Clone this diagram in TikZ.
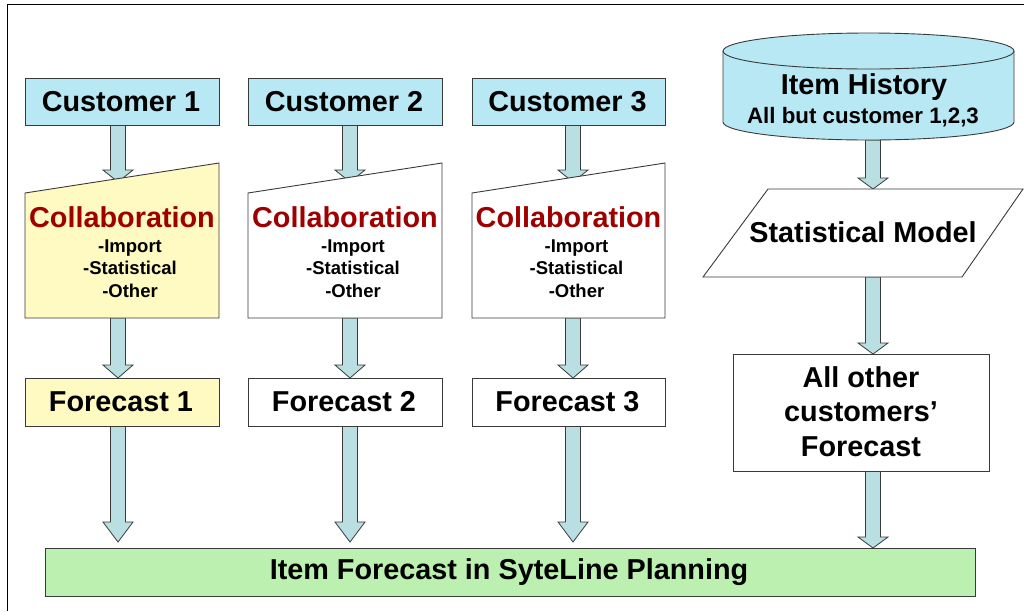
\documentclass[tikz,border=0pt]{standalone}
\usepackage{fontspec}
\setmainfont{Liberation Sans}
\usetikzlibrary{calc}
\definecolor{custblue}{HTML}{B8E8F4}
\definecolor{paleyellow}{HTML}{FFFAC2}
\definecolor{palegreen}{HTML}{BCF0B0}
\definecolor{arrowfill}{HTML}{B9DFE2}
\definecolor{collabred}{HTML}{9E0000}
\definecolor{edgegray}{HTML}{3A3A3A}
\tikzset{
  box/.style={draw=edgegray, line width=0.9pt},
  big/.style={font=\fontsize{28.8}{31}\selectfont\bfseries},
  mid/.style={font=\fontsize{22.3}{24}\selectfont\bfseries},
  small/.style={font=\fontsize{18.5}{24}\selectfont\bfseries},
  barrow/.style={draw=edgegray, line width=0.8pt, fill=arrowfill, line join=miter},
}
% block arrow from named coordinate #1 down to named coordinate #2, head length #3
\newcommand\blockarrow[3]{%
  \draw[barrow] let \p1=(#1), \p2=(#2) in
    (\x1-7.5pt,\y1) -- (\x1+7.5pt,\y1) -- (\x1+7.5pt,\y2+#3pt) -- (\x1+15pt,\y2+#3pt)
    -- (\x2,\y2) -- (\x1-15pt,\y2+#3pt) -- (\x1-7.5pt,\y2+#3pt) -- cycle;}
\begin{document}
\begin{tikzpicture}[x=1pt,y=-1pt]
\useasboundingbox (0,0) rectangle (1024,611);
\fill[white] (0,0) rectangle (1024,611);
% outer frame
\draw[black, line width=1pt] (1024,4.5) -- (7.5,4.5) -- (7.5,611);

% ---- column coordinates
\foreach \i/\xl/\xr/\ac in {1/25/219/118, 2/248/442/350, 3/472/665/573}{
  \coordinate (cu\i s) at (\ac,125);
  \coordinate (co\i t) at (\ac,182);
  \coordinate (co\i b) at (\ac,318);
  \coordinate (fo\i t) at (\ac,378);
  \coordinate (fo\i b) at (\ac,426);
  \coordinate (ba\i t) at (\ac,542);
}
\coordinate (hi s) at (873,140);
\coordinate (sm t) at (873,189);
\coordinate (sm b) at (873,277);
\coordinate (ao t) at (873,354);
\coordinate (ao b) at (873,471);
\coordinate (ba4 t) at (873,548);

% ---- arrows (drawn first, under the shapes)
\foreach \i in {1,2,3}{
  \blockarrow{cu\i s}{co\i t}{12}
  \blockarrow{co\i b}{fo\i t}{13}
  \blockarrow{fo\i b}{ba\i t}{20}
}
\blockarrow{hi s}{sm t}{11}
\blockarrow{sm b}{ao t}{11}
\blockarrow{ao b}{ba4 t}{11}

% ---- customer boxes
\draw[box, fill=custblue] (25,78) rectangle (219,125);
\node[big] (cust1) at (121,101.5) {Customer 1};
\draw[box, fill=custblue] (248,78) rectangle (442,125);
\node[big] (cust2) at (344,101.5) {Customer 2};
\draw[box, fill=custblue] (472,78) rectangle (665,125);
\node[big] (cust3) at (567.5,101.5) {Customer 3};

% ---- collaboration (manual input shapes)
\foreach \xl/\xr/\fc/\n in {25/219/paleyellow/1, 248/442/white/2, 472/665/white/3}{
  \draw[box, fill=\fc] (\xl,193) -- (\xr,163) -- (\xr,318) -- (\xl,318) -- cycle;
  \node[big, text=collabred] (collab\n) at ({(\xl+\xr)/2},217) {Collaboration};
  \node[small, align=center] (collabl\n) at ({(\xl+\xr)/2+8},268.5) {-Import\\[-1.5pt]-Statistical\\[-1.5pt]-Other};
}

% ---- forecast boxes
\draw[box, fill=paleyellow] (25,378) rectangle (219,426);
\node[big] (fc1) at (121,402) {Forecast 1};
\draw[box, fill=white] (248,378) rectangle (442,426);
\node[big] (fc2) at (344,402) {Forecast 2};
\draw[box, fill=white] (472,378) rectangle (665,426);
\node[big] (fc3) at (567.5,402) {Forecast 3};

% ---- item history cylinder
\draw[box, fill=custblue] (723,51) -- (723,122) arc[start angle=180, end angle=0, x radius=145.5, y radius=18]
   -- (1014,51) arc[start angle=0, end angle=-180, x radius=145.5, y radius=18] -- cycle;
\draw[box] (723,51) arc[start angle=180, end angle=0, x radius=145.5, y radius=18];
\node[big] (hist) at (864,87) {Item History};
\node[mid] (histsub) at (863,117) {All but customer 1,2,3};

% ---- statistical model parallelogram
\draw[box, fill=white] (768,189) -- (1023,189) -- (962,277) -- (703,277) -- cycle;
\node[big] (stat) at (863,232) {Statistical Model};

% ---- all other customers' forecast
\draw[box, fill=white] (733,354) rectangle (989,471);
\node[big, align=center] (other) at (861,411.5) {All other\\[3.5pt]customers’\\[3.5pt]Forecast};

% ---- bottom bar
\draw[box, fill=palegreen] (45,548) rectangle (975,596);
\node[big] (plan) at (509,572) {Item Forecast in SyteLine Planning};
\end{tikzpicture}
\end{document}
